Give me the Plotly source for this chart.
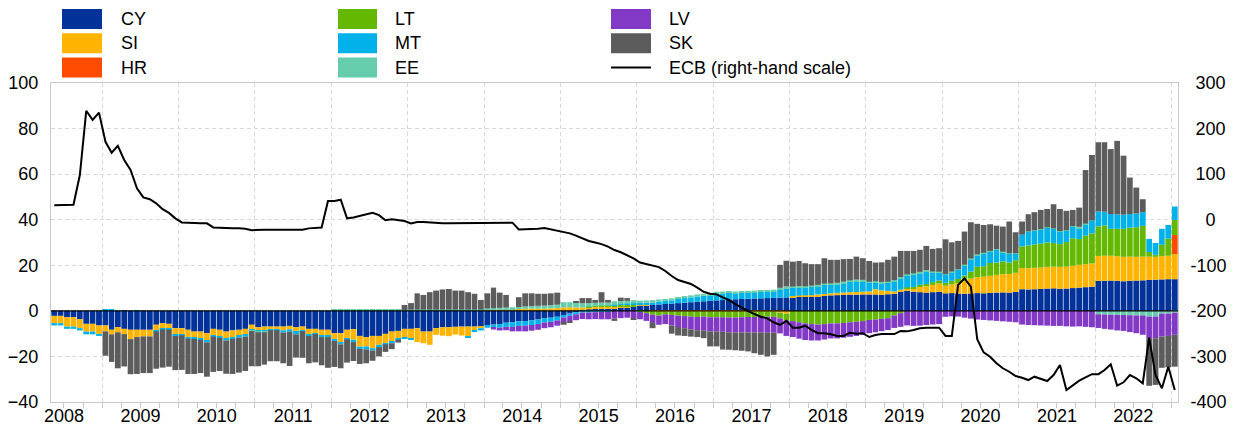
import pandas as pd
import plotly.graph_objects as go

# Monthly observations, May 2008 - January 2023
months = pd.period_range("2008-05", "2023-01", freq="M")

# Country contributions (left-hand scale), one row per calendar year
cy = [
    -2.2, -2.2, -2.8, -2.8, -3.7, -5.7, -5.7, -6.4,
    -6.4, -8.3, -7.2, -7.9, -8.3, -8.3, -8.3, -8.3, -6.1, -5.4, -5.7, -7.6,
    -7.6, -8.3, -9.1, -9.1, -9.8, -7.9, -8.3, -9.1, -8.6, -8.3, -7.9, -6.1,
    -7.2, -6.9, -6.9, -6.9, -6.9, -6.6, -7.2, -6.9, -7.9, -7.9, -8.3, -8.3,
    -9.8, -9.8, -8.3, -8.0, -11.0, -11.5, -11.0, -11.0, -10.1, -9.1, -8.8, -7.9,
    -7.9, -7.6, -9.1, -9.1, -7.6, -7.2, -7.2, -7.0, -6.9, -6.9, -6.9, -6.9,
    -6.2, -6.0, -5.8, -5.2, -5.0, -4.6, -4.5, -4.2, -3.8, -3.3, -3.0, -2.6,
    -1.8, -1.2, -0.6, 0.3, 0.6, 0.8, 1.0, 1.0, 1.2, 1.4, 1.6, 1.8,
    2.2, 2.4, 2.6, 2.8, 3.0, 3.2, 3.4, 3.6, 3.8, 4.0, 4.2, 4.4,
    4.6, 4.8, 5.0, 5.1, 5.2, 5.3, 5.4, 5.5, 5.6, 5.7, 5.8, 5.9,
    6.0, 6.1, 6.2, 6.2, 6.4, 6.6, 6.8, 6.9, 7.0, 7.1, 7.1, 7.2,
    7.2, 7.2, 7.0, 7.3, 7.5, 8.5, 8.8, 8.4, 8.2, 8.0, 8.2, 8.4,
    7.7, 7.8, 7.6, 7.5, 7.6, 7.8, 7.7, 7.9, 8.0, 8.1, 8.0, 8.3,
    9.5, 9.4, 9.5, 9.6, 9.8, 9.9, 9.7, 9.8, 10.0, 10.2, 10.4, 10.6,
    13.2, 13.2, 13.3, 13.2, 13.0, 13.2, 13.3, 13.4, 13.6, 13.7, 13.8, 13.9,
    13.9,
]

si = [
    -3.2, -3.2, -4.1, -4.1, -3.9, -3.4, -3.4, -3.7,
    -2.6, -2.0, -2.2, -2.3, -4.1, -3.2, -2.9, -2.9, -2.6, -2.5, -2.2, -2.9,
    -2.6, -3.2, -2.5, -2.9, -3.2, -2.9, -2.9, -3.2, -2.9, -2.6, -2.6, -1.9,
    -1.2, -1.5, -1.2, -1.2, -1.6, -1.5, -1.6, -1.5, -2.6, -1.9, -2.6, -2.6,
    -2.5, -4.1, -3.7, -4.7, -4.7, -4.1, -5.4, -3.9, -4.1, -4.4, -3.2, -3.7,
    -4.1, -6.1, -5.1, -5.8, -2.9, -3.7, -3.9, -3.4, -3.9, -4.4, -1.5, -0.7,
    0.5, 0.6, 0.6, 0.7, 0.8, 0.8, 0.9, 1.0, 1.0, 1.0, 1.1, 1.2,
    1.5, 1.6, 1.5, 1.2, 1.0, 0.9, 0.8, 0.7, 0.5, 0.4, 0.3, 0.3,
    0.3, 0.2, -0.2, -0.3, -0.3, -0.3, -0.3, -0.3, -0.3, -0.3, -0.3, -0.3,
    -0.3, -0.3, -0.3, -0.3, -0.3, -0.3, -0.3, -0.3, -0.3, -0.3, -0.8, -1.2,
    0.5, 0.6, 0.6, 0.7, 0.8, 0.8, 0.9, 1.0, 1.0, 1.1, 1.2, 1.2,
    1.3, 2.3, 2.0, 1.5, 1.0, 0.8, 1.2, 1.6, 2.4, 2.8, 3.2, 3.6,
    3.3, 3.8, 4.6, 5.5, 6.6, 7.0, 7.3, 7.5, 7.8, 8.0, 8.2, 8.4,
    9.3, 9.3, 9.4, 9.4, 9.5, 9.5, 9.6, 9.6, 9.8, 10.0, 10.1, 10.2,
    10.9, 11.0, 10.9, 10.8, 10.7, 10.6, 10.4, 10.4, 10.2, 10.0, 10.2, 10.3,
    11.0,
]

hr = [
    0, 0, 0, 0, 0, 0, 0, 0,
    0, 0, 0, 0, 0, 0, 0, 0, 0, 0, 0, 0,
    0, 0, 0, 0, 0, 0, 0, 0, 0, 0, 0, 0,
    0, 0, 0, 0, 0, 0, 0, 0, 0, 0, 0, 0,
    0, 0, 0, 0, 0, 0, 0, 0, 0, 0, 0, 0,
    0, 0, 0, 0, 0, 0, 0, 0, 0, 0, 0, 0,
    0, 0, 0, 0, 0, 0, 0, 0, 0, 0, 0, 0,
    0, 0, 0, 0, 0, 0, 0, 0, 0, 0, 0, 0,
    0, 0, 0, 0, 0, 0, 0, 0, 0, 0, 0, 0,
    0, 0, 0, 0, 0, 0, 0, 0, 0, 0, 0, 0,
    0, 0, 0, 0, 0, 0, 0, 0, 0, 0, 0, 0,
    0, 0, 0, 0, 0, 0, 0, 0, 0, 0, 0, 0,
    0, 0, 0, 0, 0, 0, 0, 0, 0, 0, 0, 0,
    0, 0, 0, 0, 0, 0, 0, 0, 0, 0, 0, 0,
    0, 0, 0, 0, 0, 0, 0, 0, 0, 0, 0, 0,
    8.4,
]

lt = [
    0, 0, 0, 0, 0, 0, 0, 0,
    0, 0, 0, 0, 0, 0, 0, 0, 0, 0, 0, 0,
    0, 0, 0, 0, 0, 0, 0, 0, 0, 0, 0, 0,
    0, 0, 0, 0, 0, 0, 0, 0, 0, 0, 0, 0,
    0, 0, 0, 0, 0, 0, 0, 0, 0, 0, 0, 0,
    0, 0, 0, 0, 0, 0, 0, 0, 0, 0, 0, 0,
    0, 0, 0, 0, 0, 0, 0, 0, 0, 0, 0, 0,
    0, 0, 0, 0, 0.2, 0.3, 0.4, 0.5, 0.7, 0.8, 0.8, 0.6,
    -0.5, -1.0, -1.5, -1.8, -1.2, -1.5, -1.8, -2.0, -2.2, -2.4, -2.2, -2.5,
    -2.5, -2.5, -2.6, -2.6, -2.5, -2.4, -2.4, -2.3, -2.3, -2.3, -2.5, -3.0,
    -4.5, -5.0, -5.5, -5.8, -6.0, -5.8, -5.5, -5.5, -5.3, -5.0, -4.8, -4.5,
    -4.0, -3.8, -3.5, -3.2, -2.0, -1.0, 0.3, 0.5, 0.8, 1.0, 1.2, 1.3,
    1.3, 1.6, 1.8, 2.5, 3.0, 4.5, 4.6, 5.6, 5.4, 5.6, 5.0, 5.5,
    9.5, 10.0, 10.3, 10.5, 10.7, 10.4, 10.0, 10.8, 12.0, 11.3, 12.5, 13.2,
    13.0, 13.3, 11.8, 12.0, 12.3, 12.7, 13.0, 13.5, 2.0, 0.9, 5.0, 7.5,
    6.6,
]

mt = [
    -1.0, -1.0, -1.0, -1.0, -1.0, -1.2, -1.2, -0.9,
    0.5, 0.5, 0, 0.3, 0, 0.3, 0, 0, -0.3, -0.3, -0.3, -0.5,
    -0.5, -0.7, -0.7, -0.7, -0.8, -0.5, -0.6, -0.7, -0.8, -0.8, -0.8, -0.6,
    -0.5, -0.5, -0.4, -0.4, -1.0, -1.0, -1.5, -0.5, -0.5, -0.4, -0.6, -0.6,
    -0.9, -0.8, -0.5, -1.0, -1.0, -1.3, -1.0, -1.0, -0.5, -0.7, -0.7, -0.7,
    -0.4, 0, 0, 0, 0, 0, 0, 0, 0, -0.2, -0.7, -1.0,
    -1.2, -1.4, -1.6, -1.8, -2.0, -2.0, -2.0, -2.0, -2.0, -1.8, -1.8, -1.6,
    -1.1, -1.0, -0.9, -0.8, -0.7, -0.6, -0.5, -0.5, 0.2, 0.3, 0.4, 0.6,
    1.0, 1.0, 1.1, 1.2, 1.3, 1.4, 1.8, 2.0, 2.1, 2.3, 2.4, 2.5,
    3.0, 2.9, 2.9, 2.7, 2.7, 2.8, 2.8, 2.8, 2.8, 2.9, 3.6, 4.0,
    3.6, 3.6, 3.4, 3.6, 3.6, 4.0, 3.8, 3.8, 4.2, 4.6, 4.8, 4.6,
    3.8, 3.0, 3.2, 3.5, 4.5, 5.0, 5.2, 5.5, 5.2, 5.6, 4.2, 3.5,
    3.5, 3.8, 4.0, 4.5, 5.5, 5.2, 5.6, 5.0, 5.6, 4.0, 3.8, 2.8,
    5.0, 6.0, 6.0, 6.2, 6.5, 6.2, 5.5, 5.0, 5.2, 4.8, 4.9, 5.5,
    6.5, 6.0, 6.5, 6.3, 6.2, 6.0, 6.0, 6.0, 5.8, 5.2, 7.0, 6.0,
    5.9,
]

ee = [
    0, 0, 0, 0, 0, 0, 0, 0,
    0, 0, 0, 0, 0, 0, 0, 0, 0, 0, 0, 0,
    0, 0, 0, 0, 0, 0, 0, 0, 0, 0, 0, -0.3,
    -0.5, -0.5, 0, 0, 0, 0, 0, 0, 0, 0, 0, 0,
    0.4, 0.4, 0.4, 0.4, 0.4, 0.4, 0.4, 0.4, 0.4, 0.4, 0.4, 0.4,
    0.6, 0.6, 0.6, 0.6, 0.6, 0.6, 0.6, 0.6, 0.6, 0.6, 0.6, 0.6,
    0.6, 0.6, 0.7, 0.7, 0.8, 0.9, 1.0, 1.1, 1.2, 1.3, 1.4, 1.5,
    2.3, 2.2, 2.0, 1.8, 1.6, 1.5, 1.4, 1.4, 1.6, 1.4, 1.3, 1.4,
    1.0, 1.0, 1.0, 1.0, 0.9, 0.9, 0.9, 0.9, 0.9, 0.9, 0.9, 0.8,
    0.8, 0.8, 0.8, 0.7, 0.7, 0.7, 0.7, 0.7, 0.7, 0.7, 0.7, 0.8,
    0.6, 0.6, 0.6, 0.6, 0.6, 0.6, 0.6, 0.6, 0.6, 0.6, 0.6, 0.6,
    0.5, 0.5, 0.5, 0.5, 0.5, 0.5, 0.5, 0.5, 0.5, 0.5, 0.5, 0.4,
    0.3, 0.3, 0.3, 0.3, 0.3, 0.3, 0.3, 0.3, 0.3, 0.3, 0.3, 0.3,
    0.2, 0.2, 0.2, 0.2, 0.2, 0.2, 0.2, 0.2, 0.2, 0.6, 0.4, 0.2,
    -1.5, -1.6, -1.7, -1.8, -1.8, -1.9, -2.0, -2.0, -2.5, -2.5, -1.2, -1.2,
    -0.8,
]

lv = [
    0, 0, 0, 0, 0, 0, 0, 0,
    0, 0, 0, 0, 0, 0, 0, 0, 0, 0, 0, 0,
    0, 0, 0, 0, 0, 0, 0, 0, 0, 0, 0, 0,
    0, 0, 0, 0, 0, 0, 0, 0, 0, 0, 0, 0,
    0, 0, 0, 0, 0, 0, 0, 0, 0, 0, 0, 0,
    0, 0, 0, 0, 0, 0, 0, 0, 0, 0, 0, 0,
    0, -0.8, -1.2, -1.5, -2.0, -2.4, -2.5, -2.5, -2.5, -2.5, -2.4, -2.3,
    -2.4, -2.5, -2.6, -2.8, -3.0, -3.0, -3.2, -3.2, -3.4, -3.2, -3.0, -3.2,
    -3.2, -3.4, -3.6, -4.0, -4.3, -4.6, -5.0, -5.3, -5.6, -5.8, -6.0, -6.2,
    -6.3, -6.4, -6.5, -6.6, -6.7, -6.8, -6.8, -6.9, -7.0, -7.0, -6.6, -6.8,
    -7.0, -7.2, -7.3, -7.2, -7.0, -6.8, -6.6, -6.6, -6.5, -6.4, -6.2, -6.0,
    -5.8, -5.6, -5.4, -5.2, -5.5, -6.0, -6.4, -6.6, -6.5, -6.2, -6.0, -5.8,
    -2.6, -2.4, -2.5, -3.0, -3.4, -3.8, -4.0, -4.2, -4.4, -4.6, -4.8, -5.0,
    -6.0, -6.2, -6.3, -6.4, -6.5, -6.6, -6.6, -6.8, -6.9, -6.8, -7.0, -7.2,
    -6.0, -6.3, -6.5, -6.8, -7.0, -7.4, -7.8, -8.5, -9.5, -9.5, -10.0, -9.8,
    -9.7,
]

sk = [
    0, 0, 0, 0, 0, 0, 0, 0,
    -10.7, -12.1, -15.8, -14.2, -15.4, -16.2, -16.1, -16.1, -16.4, -16.7, -16.3, -15.0,
    -15.2, -15.5, -15.4, -14.6, -15.1, -15.5, -14.6, -14.6, -15.4, -15.4, -15.1, -15.4,
    -14.9, -14.2, -13.6, -13.6, -13.5, -15.1, -10.2, -11.7, -12.0, -12.4, -12.4, -13.5,
    -11.4, -10.5, -10.2, -8.3, -6.6, -6.1, -4.5, -4.1, -3.3, -2.6, -1.2, 2.2,
    2.8, 7.1, 6.4, 7.6, 8.3, 8.8, 9.0, 8.3, 8.3, 7.6, 6.9, 4.2,
    6.6, 9.0, 6.7, 5.6, 0, 4.3, 5.8, 5.6, 5.3, 5.2, 5.2, 5.3,
    -0.8, -0.5, 0.5, 2.3, 2.2, 1.3, 4.6, 1.2, -1.0, 1.5, 1.2, -0.5,
    0, 0, -2.3, 0, 0, -3.6, -3.7, -3.4, -3.2, -3.0, -3.5, -6.6,
    -6.5, -7.8, -7.7, -7.8, -8.0, -8.3, -9.1, -9.8, -10.4, -9.7, 10.1, 11.3,
    10.9, 11.0, 10.1, 9.4, 9.1, 11.1, 10.3, 10.1, 9.9, 9.4, 10.1, 9.5,
    9.1, 8.2, 8.6, 9.6, 10.3, 11.5, 10.3, 9.8, 9.7, 10.6, 9.9, 10.3,
    15.3, 12.8, 12.4, 14.5, 15.9, 13.4, 12.2, 11.7, 10.3, 11.0, 13.9, 9.2,
    5.7, 7.5, 7.9, 8.4, 8.0, 10.6, 9.7, 8.5, 7.1, 8.4, 23.5, 28.7,
    30.4, 30.5, 28.5, 32.3, 25.9, 16.0, 11.4, 5.7, -20.9, -20.5, -13.8, -13.8,
    -14.0,
]

# ECB aggregate (right-hand scale)
ecb = [
    32, 32, 32, 33, 98, 239, 219, 235,
    171, 147, 162, 131, 109, 69, 49, 45, 36, 23, 15, 3,
    -6, -6, -7, -8, -8, -17, -18, -19, -19, -19, -20, -23,
    -22, -22, -22, -22, -22, -22, -22, -22, -19, -18, -17, 41,
    41, 44, 3, 5, 8, 12, 15, 10, -1, 1, -1, -3,
    -8, -5, -5, -6, -8, -8, -8, -8, -8, -8, -8, -7,
    -7, -6.5, -6.5, -6.5, -6.5, -21.5, -21.5, -21.5, -20, -18, -21, -24,
    -25.6, -30, -35, -41, -46.8, -50, -53.5, -59, -66.5, -71.5, -77.4, -84.7,
    -94, -97, -101, -104, -112.5, -123.5, -132.3, -137.4, -141, -149, -158, -162.4,
    -163.8, -170.4, -176.2, -185, -193, -200.3, -207, -212.8, -216.4, -225, -231, -222,
    -237, -237, -232.6, -242, -249, -249, -251.5, -255, -255, -248, -250, -249,
    -257.4, -253, -251, -251, -251, -244, -245, -242, -238, -237, -237, -237,
    -255, -255, -143, -129, -147, -262, -291, -300.6, -315, -326, -333.6, -343,
    -346.7, -351.8, -344.5, -350, -354, -340.8, -318.8, -373.7, -364, -353, -345.8, -339,
    -339, -329.8, -317.3, -364, -356.8, -340.8, -348, -359, -259, -340.8, -370, -322.5,
    -373.7,
]

# Right-hand axis ticks; labels are centred under one another
rhs_ticks = [300, 200, 100, 0, -100, -200, -300, -400]

countries = ["CY", "SI", "HR", "LT", "MT", "EE", "LV", "SK"]
series = [cy, si, hr, lt, mt, ee, lv, sk]
colors = {
    "CY": "#003299", "SI": "#ffb400", "HR": "#ff4b00", "LT": "#65b800",
    "MT": "#00b1ea", "EE": "#66cdac", "LV": "#8139c6", "SK": "#5c5c5c",
}
for s in series + [ecb]:
    assert len(s) == len(months), len(s)

FONT = "Liberation Sans, Arial, sans-serif"
W, H = 1236, 427
L, R, T, B = 51, 58, 83, 25
PW, PH = W - L - R, H - T - B

start = months.to_timestamp(how="start")
end = (months + 1).to_timestamp(how="start")
mid = start + (end - start) / 2
bar_w = ((end - start).total_seconds() * 1000 * 0.9).tolist()

fig = go.Figure()
for name, vals in zip(countries, series):
    fig.add_trace(go.Bar(
        x=mid, y=vals, width=bar_w, name=name,
        marker=dict(color=colors[name], line=dict(width=0)),
        showlegend=False,
    ))
fig.add_trace(go.Scatter(
    x=mid, y=ecb, yaxis="y2", mode="lines", name="ECB (right-hand scale)",
    line=dict(color="black", width=2), showlegend=False,
))

grid = "#d9d9d9"
axis_line = "#c8c8c8"


def px_x(x):
    return (x - L) / PW


def px_y(y):
    return (H - B - y) / PH


def centred(v):
    # pad shorter labels with figure/punctuation spaces so they centre on the longest
    s = str(v)
    if v == 0:
        return "\u2007\u2008" + s
    if v > 0:
        return "\u2008" + s
    return s


shapes = [dict(type="line", xref="paper", yref="y", x0=0, x1=1, y0=0, y1=0,
               line=dict(color="black", width=1.2), layer="above")]
annotations = []

# Legend laid out in three columns
legend_cols = [
    (62, 102, 119, ["CY", "SI", "HR"]),
    (338, 377, 393, ["LT", "MT", "EE"]),
    (611, 651, 667, ["LV", "SK", "ECB (right-hand scale)"]),
]
row_tops = [9, 33.3, 57.6]
for x0, x1, tx, names in legend_cols:
    for top, name in zip(row_tops, names):
        yc = top + 10
        if name in colors:
            shapes.append(dict(type="rect", xref="paper", yref="paper",
                               x0=px_x(x0), x1=px_x(x1), y0=px_y(top + 20), y1=px_y(top),
                               fillcolor=colors[name], line=dict(width=0)))
        else:
            shapes.append(dict(type="line", xref="paper", yref="paper",
                               x0=px_x(x0), x1=px_x(x1), y0=px_y(yc), y1=px_y(yc),
                               line=dict(color="black", width=2)))
        annotations.append(dict(xref="paper", yref="paper", x=px_x(tx), y=px_y(yc),
                                text=name, showarrow=False, xanchor="left", yanchor="middle",
                                font=dict(family=FONT, size=18, color="black")))

fig.update_layout(
    width=W, height=H, margin=dict(l=L, r=R, t=T, b=B, autoexpand=False),
    template="none", paper_bgcolor="white", plot_bgcolor="white",
    barmode="relative", showlegend=False,
    font=dict(family=FONT, size=18, color="black"),
    shapes=shapes, annotations=annotations,
    xaxis=dict(
        type="date", range=["2008-05-01", "2023-02-01"],
        tick0="2008-01-01", dtick="M12", ticklabelmode="period", tickformat="%Y",
        showgrid=True, gridcolor=grid, griddash="4px,3px", gridwidth=1,
        ticks="outside", ticklen=5, tickcolor=axis_line, ticklabelstandoff=-8,
        minor=dict(dtick="M3", ticks="outside", ticklen=5, tickcolor=axis_line, showgrid=False),
        showline=True, linecolor=axis_line, linewidth=1, mirror=True,
        zeroline=False, tickfont=dict(size=18, color="black"),
    ),
    yaxis=dict(
        range=[-40, 100], dtick=20, tick0=0,
        showgrid=True, gridcolor=grid, griddash="4px,3px", gridwidth=1,
        zeroline=False, showline=True, linecolor=axis_line, linewidth=1,
        ticks="", ticklabelstandoff=8, tickfont=dict(size=18, color="black"),
    ),
    yaxis2=dict(
        range=[-400, 300], tickmode="array", tickvals=rhs_ticks,
        ticktext=[centred(v) for v in rhs_ticks], overlaying="y", side="right",
        showgrid=False, zeroline=False, showline=True, linecolor=axis_line, linewidth=1,
        ticks="", ticklabelstandoff=8, tickfont=dict(size=18, color="black"),
    ),
)

fig.write_html("out.html")
